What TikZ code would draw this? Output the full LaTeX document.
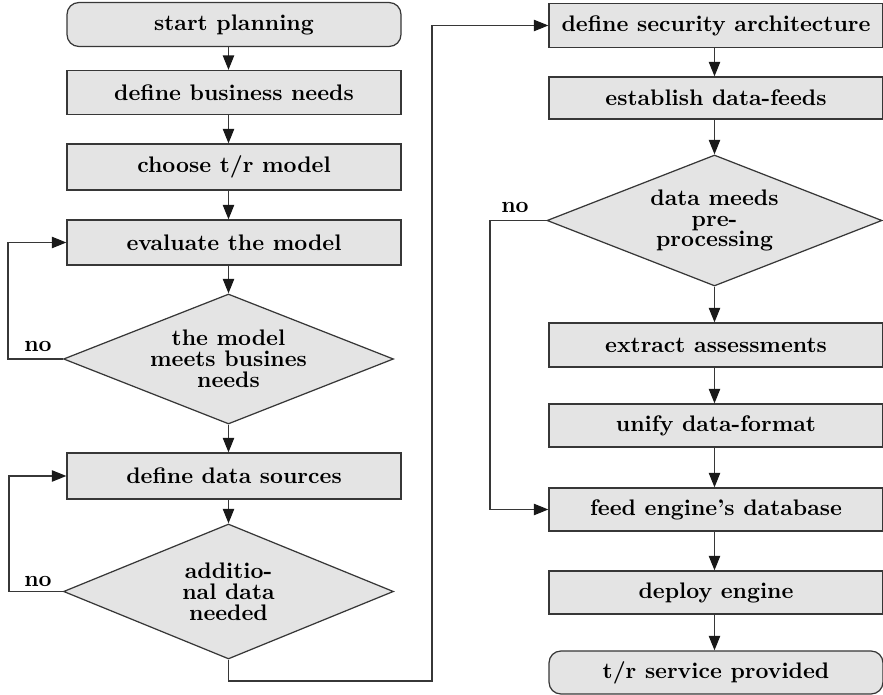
\documentclass[tikz,border=0pt]{standalone}
\usetikzlibrary{arrows.meta,shapes.geometric}
\definecolor{boxfill}{RGB}{228,228,228}
\definecolor{edge}{RGB}{55,55,55}
\def\pxu{0.4444pt}
\begin{document}
\begin{tikzpicture}[x=0.4444pt, y=-0.4444pt,
  box/.style={draw=edge, fill=boxfill, line width=0.55pt, inner sep=0pt,
    minimum width=334*\pxu, minimum height=44*\pxu, font=\bfseries},
  term/.style={box, rounded corners=5.3pt},
  dec/.style={diamond, draw=edge, fill=boxfill, line width=0.55pt, inner sep=0pt,
    aspect=2.53, minimum width=330*\pxu, minimum height=130*\pxu, align=center,
    font=\bfseries\fontsize{10}{9.3}\selectfont},
  arr/.style={draw=edge, line width=0.55pt,
    -{Triangle[length=6.4pt,width=5pt,color=black!90]}},
  lbl/.style={font=\bfseries, inner sep=0pt}]
\useasboundingbox (0,0) rectangle (883,695);

% column axes for the vertical connectors
\coordinate (colL) at (228.5,0);
\coordinate (colR) at (714.5,0);

% left column
\node[term] (start) at (234,24.5) {start planning};
\node[box] (needs) at (234,92.5) {define business needs};
\node[box, minimum height=46*\pxu] (choose) at (234,167) {choose t/r model};
\node[box, minimum height=45*\pxu] (eval) at (234,242.5) {evaluate the model};
\node[dec] (d1) at (228.5,359) {the model\\meets busines\\needs};
\node[box, minimum height=46*\pxu] (src) at (234,476) {define data sources};
\node[dec, minimum height=135*\pxu] (d2) at (228.5,591.5) {additio-\\nal data\\needed};

% right column
\node[box] (sec) at (716,25.5) {define security architecture};
\node[box, minimum height=42*\pxu] (feeds) at (716,98) {establish data-feeds};
\node[dec, minimum width=335*\pxu, minimum height=131*\pxu] (d3) at (714.5,220.5) {data meeds\\pre-\\processing};
\node[box] (extract) at (716,345) {extract assessments};
\node[box, minimum height=43*\pxu] (unify) at (716,425.5) {unify data-format};
\node[box, minimum height=43*\pxu] (feed) at (716,509.5) {feed engine's database};
\node[box, minimum height=43*\pxu] (deploy) at (716,592.5) {deploy engine};
\node[term, minimum height=43*\pxu] (done) at (716,672.5) {t/r service provided};

% main flow, left column
\draw[arr] (start.south -| colL) -- (needs.north -| colL);
\draw[arr] (needs.south -| colL) -- (choose.north -| colL);
\draw[arr] (choose.south -| colL) -- (eval.north -| colL);
\draw[arr] (eval.south -| colL) -- (d1.north);
\draw[arr] (d1.south) -- (src.north -| colL);
\draw[arr] (src.south -| colL) -- (d2.north);

% loops back on "no"
\draw[arr] (d1.west) -- (8,359) |- (eval.west);
\node[lbl] (no1) at (38,346) {no};
\draw[arr] (d2.west) -- (9,591.5) |- (src.west);
\node[lbl] (no2) at (38,581) {no};

% hand-over to the right column
\coordinate (jog) at (432,681);
\draw[arr] (d2.south) |- (jog) |- (sec.west);

% main flow, right column
\draw[arr] (sec.south -| colR) -- (feeds.north -| colR);
\draw[arr] (feeds.south -| colR) -- (d3.north);
\draw[arr] (d3.south) -- (extract.north -| colR);
\draw[arr] (extract.south -| colR) -- (unify.north -| colR);
\draw[arr] (unify.south -| colR) -- (feed.north -| colR);
\draw[arr] (feed.south -| colR) -- (deploy.north -| colR);
\draw[arr] (deploy.south -| colR) -- (done.north -| colR);

% bypass of the pre-processing steps
\draw[arr] (d3.west) -- (490,220.5) |- (feed.west);
\node[lbl] (no3) at (515,207) {no};
\end{tikzpicture}
\end{document}
